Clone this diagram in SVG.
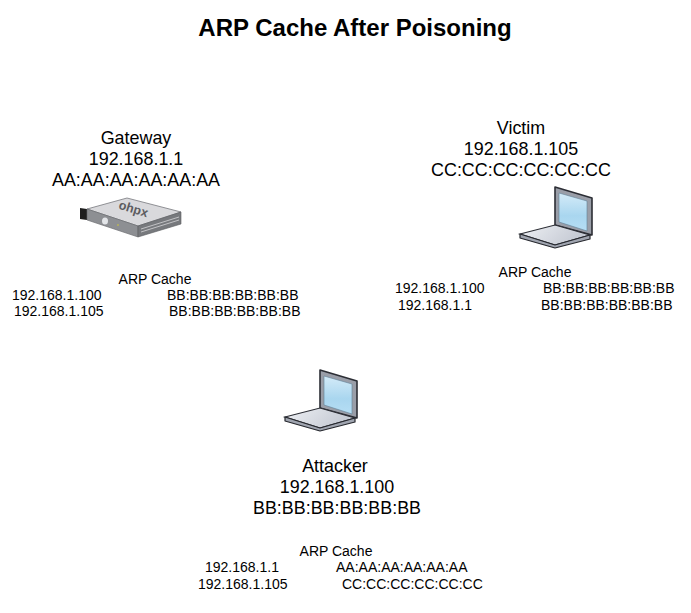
<svg xmlns="http://www.w3.org/2000/svg" width="691" height="613" viewBox="0 0 691 613">
<style>
text{font-family:"Liberation Sans",Arial,sans-serif;fill:#000}
.t{font-size:24px;font-weight:bold;text-anchor:middle}
.n{font-size:17.9px;text-anchor:middle}
.c{font-size:14px}
.m{text-anchor:middle}
</style>
<defs>
<linearGradient id="scr" x1="0" y1="0" x2="0" y2="1"><stop offset="0" stop-color="#d4ebf8"/><stop offset="0.6" stop-color="#a9d6ef"/><stop offset="1" stop-color="#b6def4"/></linearGradient>
<linearGradient id="base" x1="0" y1="0" x2="1" y2="0.3"><stop offset="0" stop-color="#eef0f4"/><stop offset="1" stop-color="#c3c8d2"/></linearGradient>
<g id="laptop">
<path d="M555 187 L592 198 L592 235 L555 225 Z" fill="#9a9ea8" stroke="#2c2e35" stroke-width="1.6" stroke-linejoin="round"/>
<path d="M559 193 L587 201 L587 231 L559 222 Z" fill="url(#scr)" stroke="#5f7f95" stroke-width="0.6"/>
<path d="M520 234 L555 225 L590 235 L555 245 Z" fill="url(#base)" stroke="#2c2e35" stroke-width="1.2"/>
<path d="M520 234 L520 238 L555 248 L590 239 L590 235 L555 245 Z" fill="#a0a5b0" stroke="#26282e" stroke-width="1.2" stroke-linejoin="round"/>
</g>
</defs>
<rect width="691" height="613" fill="#fff"/>
<g id="connectors"/>
<text class="t" x="355" y="36">ARP Cache After Poisoning</text>
<g id="gateway">
<text class="n" x="136" y="144">Gateway</text>
<text class="n" x="136" y="165">192.168.1.1</text>
<text class="n" x="136" y="186">AA:AA:AA:AA:AA:AA</text>
<path d="M80 208 L87 209 L87 220 L80 219 Z" fill="#1e1e1e"/>
<path d="M87 209 L127 198 L181 212 L138 226 Z" fill="#d9d9dc" stroke="#77797e" stroke-width="0.8"/>
<path d="M87 209 L138 226 L138 237 L87 220 Z" fill="#8d8f93" stroke="#66686c" stroke-width="0.6"/>
<path d="M138 226 L181 212 L181 224 L138 237 Z" fill="#77797d" stroke="#5a5c60" stroke-width="0.6"/>
<path d="M141 229 L179 217 M141 232 L179 220" stroke="#d5d6d8" stroke-width="0.8" fill="none"/>
<ellipse cx="105" cy="221" rx="3" ry="3.6" fill="#e3e5e8"/>
<circle cx="118" cy="225" r="1" fill="#b8b35a"/>
<text font-size="12.5" font-weight="bold" style="fill:#5c5c60" transform="translate(118 208.5) rotate(17)">ohpx</text>
</g>
<g id="gateway-cache" class="c">
<text class="m" x="155" y="284">ARP Cache</text>
<text x="12" y="300">192.168.1.100</text>
<text x="167" y="300">BB:BB:BB:BB:BB:BB</text>
<text x="14" y="316">192.168.1.105</text>
<text x="169" y="316">BB:BB:BB:BB:BB:BB</text>
</g>
<g id="victim">
<text class="n" x="521" y="134">Victim</text>
<text class="n" x="521" y="155">192.168.1.105</text>
<text class="n" x="521" y="176">CC:CC:CC:CC:CC:CC</text>
<use href="#laptop"/>
</g>
<g id="victim-cache" class="c">
<text class="m" x="535" y="277">ARP Cache</text>
<text x="395" y="293">192.168.1.100</text>
<text x="543" y="293">BB:BB:BB:BB:BB:BB</text>
<text x="398" y="310">192.168.1.1</text>
<text x="541" y="310">BB:BB:BB:BB:BB:BB</text>
</g>
<g id="attacker">
<use href="#laptop" transform="translate(-235 183)"/>
<text class="n" x="335" y="472">Attacker</text>
<text class="n" x="337" y="493">192.168.1.100</text>
<text class="n" x="337" y="514">BB:BB:BB:BB:BB:BB</text>
</g>
<g id="attacker-cache" class="c">
<text class="m" x="336" y="556">ARP Cache</text>
<text x="205" y="572">192.168.1.1</text>
<text x="336" y="572">AA:AA:AA:AA:AA:AA</text>
<text x="198" y="589">192.168.1.105</text>
<text x="342" y="589">CC:CC:CC:CC:CC:CC</text>
</g>
</svg>
